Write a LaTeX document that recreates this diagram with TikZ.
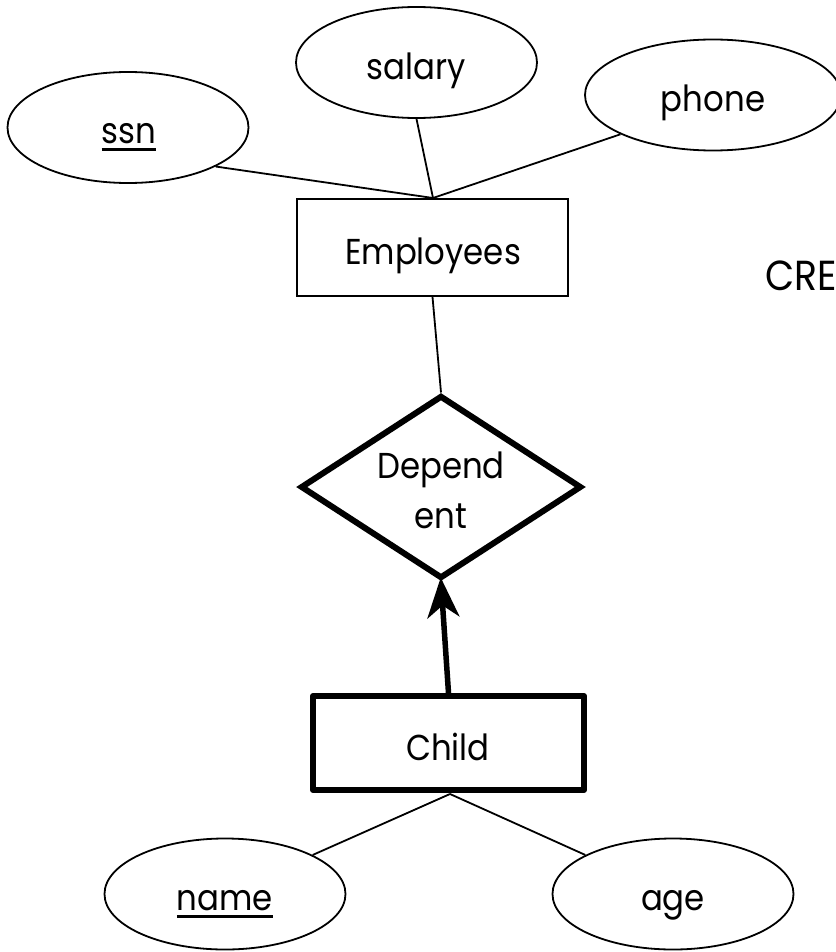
\documentclass[tikz,border=0pt]{standalone}
\usepackage{fontspec}
\setmainfont{Poppins}[FakeStretch=0.9]
\usetikzlibrary{shapes.geometric,arrows.meta}
\begin{document}
\begin{tikzpicture}[x=1pt,y=-1pt,
  attr/.style={draw,ellipse,line width=1.8pt,inner sep=0pt,minimum width=241pt,minimum height=111pt},
  ent/.style={draw,rectangle,line width=1.8pt,inner sep=0pt},
  weak/.style={draw,rectangle,line width=6pt,inner sep=0pt,line join=round},
  rel/.style={draw,diamond,line width=6pt,inner sep=0pt},
  lbl/.style={font=\fontsize{36}{40}\selectfont,inner sep=0pt,anchor=base},
  ul/.style={line width=3pt},
  conn/.style={line width=1.8pt},
  thickconn/.style={line width=5.5pt,-{Stealth[length=40pt,width=32pt,inset=12pt]}}]
\useasboundingbox (0,0) rectangle (835,952);
% Employees and its attributes
\node[attr] (ssn) at (128,127.5) {};
\node[lbl] (ssnt) at (129,144) {ssn};
\draw[ul] ([yshift=-6pt]ssnt.base west) -- ([yshift=-6pt]ssnt.base east);
\node[attr] (salary) at (416.5,62.5) {};
\node[lbl] (salt) at (416,80) {salary};
\node[attr,minimum width=256pt] (phone) at (713,95) {};
\node[lbl] (phot) at (713,112) {phone};
\node[ent,minimum width=271pt,minimum height=97pt] (emp) at (432.5,247.5) {};
\node[lbl] (empt) at (433,264) {Employees};
\coordinate (emptop) at (433,198);
\draw[conn] (ssn.-24) -- (emptop);
\draw[conn] (salary.south) -- (emptop);
\draw[conn] (phone.-157) -- (emptop);
% relationship
\node[rel,minimum width=281pt,minimum height=183pt] (dep) at (441,487) {};
\node[lbl] (dept1) at (441,478) {Depend};
\node[lbl] (dept2) at (441,528) {ent};
\draw[conn] (emp.south) -- (dep.north);
% weak entity
\node[weak,minimum width=271pt,minimum height=94pt] (child) at (448.5,743) {};
\node[lbl] (childt) at (448,760) {Child};
\draw[thickconn,shorten >=-4pt] (child.north) -- (dep.south);
\node[attr] (name) at (225,894) {};
\node[lbl] (namet) at (225,910) {name};
\draw[ul] ([yshift=-6pt]namet.base west) -- ([yshift=-6pt]namet.base east);
\node[attr] (age) at (673,894) {};
\node[lbl] (aget) at (673,910) {age};
\coordinate (chbot) at (450,794);
\draw[conn] (name.24) -- (chbot);
\draw[conn] (age.156) -- (chbot);
\node[lbl,anchor=base west,font=\fontsize{42}{46}\selectfont] (cre) at (765,290) {CRE};
\end{tikzpicture}
\end{document}
